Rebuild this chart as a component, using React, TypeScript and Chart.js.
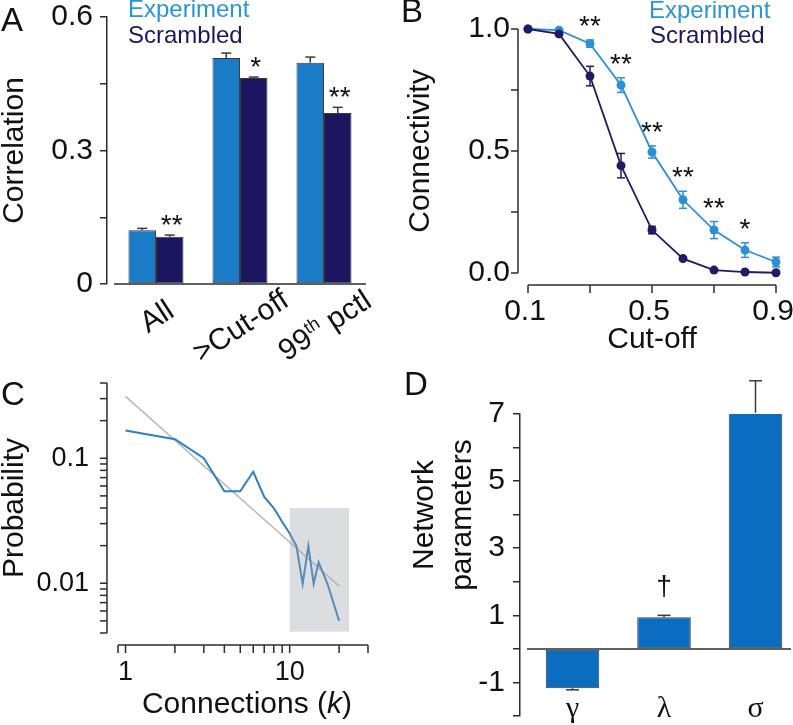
import React, { useEffect, useRef } from 'react';
import { Chart, registerables } from 'chart.js';

Chart.register(...registerables);

const SANS = '"Liberation Sans", Arial, Helvetica, sans-serif';
const SERIF = '"Liberation Serif", "Times New Roman", Times, serif';
const INK = '#111111';
const AXIS = '#2b2b2b';
const EDGE = '#3a3a3a';
const EXP_TEXT = '#2b93d9';
const EXP_BAR = '#1a7bc6';
const SCR = '#1c1560';
const EXP_LINE = '#2a8fd6';
const SCR_LINE = '#211a66';
const C_LINE = '#2b7fc4';
const C_FIT = '#b8b8b8';
const C_TAIL = 'rgba(160,162,170,0.37)';
const D_BAR = '#0a6dbf';

// ---------- Panel A : correlation ----------
const aCategories = ['All', '>Cut-off', '99th pctl'];
const aExperiment = [0.121, 0.508, 0.497];
const aExperimentErr = [0.004, 0.011, 0.013];
const aScrambled = [0.106, 0.463, 0.384];
const aScrambledErr = [0.004, 0.002, 0.013];
const aSignificance = ['**', '*', '**'];
const aYTicks = [0, 0.15, 0.3, 0.45, 0.6];
const aYTickLabels = ['0', '', '0.3', '', '0.6'];

// ---------- Panel B : connectivity vs cut-off ----------
const bCutoffs = [0.1, 0.2, 0.3, 0.4, 0.5, 0.6, 0.7, 0.8, 0.9];
const bExperiment = [1.0, 0.995, 0.94, 0.77, 0.496, 0.3, 0.176, 0.094, 0.045];
const bExperimentErr = [0, 0.006, 0.015, 0.03, 0.025, 0.035, 0.035, 0.03, 0.02];
const bScrambled = [1.0, 0.98, 0.807, 0.44, 0.176, 0.059, 0.012, 0.004, 0.001];
const bScrambledErr = [0, 0.006, 0.04, 0.05, 0.015, 0.006, 0.004, 0.003, 0.003];
const bSignificance = ['', '', '**', '**', '**', '**', '**', '*', ''];
const bXTicks = [0.1, 0.3, 0.5, 0.7, 0.9];
const bXTickLabels = ['0.1', '', '0.5', '', '0.9'];
const bYTicks = [0, 0.25, 0.5, 0.75, 1];
const bYTickLabels = ['0.0', '', '0.5', '', '1.0'];

// ---------- Panel C : degree distribution ----------
const cConnections = [1, 2, 3, 4, 5, 6, 7, 8, 9, 10, 11, 12, 13, 14, 15, 17, 20];
const cProbability = [0.167, 0.142, 0.1, 0.0545, 0.0545, 0.078, 0.049, 0.04, 0.031, 0.025, 0.0198, 0.0099, 0.0198, 0.0099, 0.0147, 0.0099, 0.005];
const cFitConnections = [1, 20];
const cFitProbability = [0.313, 0.0095];
const cTailConnections = [10, 23];
const cTailProbability = [0.0041, 0.04];
const cXTicks = [0.9, 1, 2, 3, 4, 5, 6, 7, 8, 9, 10, 20, 30];
const cXTickLabels = ['', '1', '', '', '', '', '', '', '', '', '10', '', ''];
const cYTicks = [0.004, 0.005, 0.006, 0.007, 0.008, 0.009, 0.01, 0.02, 0.03, 0.04, 0.05, 0.06, 0.07, 0.08, 0.09, 0.1, 0.2, 0.3, 0.4];
const cYTickLabels = ['', '', '', '', '', '', '0.01', '', '', '', '', '', '', '', '', '0.1', '', '', ''];

// ---------- Panel D : network parameters ----------
const dParameters = ['γ', 'λ', 'σ'];
const dValues = [-1.17, 0.94, 7.04];
const dErr = [0.05, 0.06, 0.95];
const dMarks = ['', '†', ''];
const dYTicks = [-2, -1, 0, 1, 2, 3, 4, 5, 6, 7];
const dYTickLabels = ['', '-1', '', '1', '', '3', '', '5', '', '7'];

type Ctx = CanvasRenderingContext2D;

const fixSize = (n: number) => (s: any) => {
  if (s.isHorizontal()) s.height = n;
  else s.width = n;
  s.paddingLeft = 0;
  s.paddingRight = 0;
  s.paddingTop = 0;
  s.paddingBottom = 0;
};
const useTicks = (vals: number[]) => (s: any) => {
  s.ticks = vals.map((v) => ({ value: v }));
};
const labelsFrom = (labels: string[]) => (_v: any, i: number) => labels[i] ?? '';

function line(ctx: Ctx, x1: number, y1: number, x2: number, y2: number, color = AXIS, width = 1.5) {
  ctx.beginPath();
  ctx.moveTo(x1, y1);
  ctx.lineTo(x2, y2);
  ctx.strokeStyle = color;
  ctx.lineWidth = width;
  ctx.lineCap = 'butt';
  ctx.stroke();
}

function text(ctx: Ctx, str: string, x: number, y: number, size: number, color = INK, align: CanvasTextAlign = 'left', family = SANS, style = '') {
  ctx.font = `${style} ${size}px ${family}`.trim();
  ctx.fillStyle = color;
  ctx.textAlign = align;
  ctx.textBaseline = 'alphabetic';
  ctx.fillText(str, x, y);
}

function errorBar(ctx: Ctx, x: number, yFrom: number, yTo: number, cap: number, color: string, width: number, bothEnds: boolean) {
  line(ctx, x, yFrom, x, yTo, color, width);
  line(ctx, x - cap / 2, yTo, x + cap / 2, yTo, color, width);
  if (bothEnds) line(ctx, x - cap / 2, yFrom, x + cap / 2, yFrom, color, width);
}

// text split so that an ordinal suffix (99th) is drawn as superscript
function richParts(label: string) {
  const m = label.match(/^(\d+)(st|nd|rd|th)(.*)$/);
  return m
    ? [{ t: m[1], sup: false }, { t: m[2], sup: true }, { t: m[3], sup: false }]
    : [{ t: label, sup: false }];
}
function richWidths(ctx: Ctx, label: string, size: number) {
  const supSize = Math.round(size * 0.6);
  return richParts(label).map((p) => {
    ctx.font = `${p.sup ? supSize : size}px ${SANS}`;
    return ctx.measureText(p.t).width;
  });
}
function richText(ctx: Ctx, label: string, size: number) {
  const parts = richParts(label);
  const supSize = Math.round(size * 0.6);
  const widths = richWidths(ctx, label, size);
  let x = -widths.reduce((a, b) => a + b, 0) / 2;
  const baseY = size * 0.36;
  ctx.fillStyle = INK;
  ctx.textAlign = 'left';
  ctx.textBaseline = 'alphabetic';
  parts.forEach((p, i) => {
    ctx.font = `${p.sup ? supSize : size}px ${SANS}`;
    ctx.fillText(p.t, x, p.sup ? baseY - size * 0.36 : baseY);
    x += widths[i];
  });
}

const base = {
  responsive: false,
  maintainAspectRatio: false,
  animation: false,
  devicePixelRatio: 1,
  events: [],
  plugins: { legend: { display: false }, tooltip: { enabled: false } },
};

// ================= Panel A =================
const plugA = {
  id: 'panelA',
  afterDatasetsDraw(chart: any) {
    const ctx: Ctx = chart.ctx;
    const xs = chart.scales.x;
    const ys = chart.scales.y;
    ctx.save();
    const series: [number[], number[]][] = [
      [aExperiment, aExperimentErr],
      [aScrambled, aScrambledErr],
    ];
    series.forEach(([vals, errs], d) => {
      chart.getDatasetMeta(d).data.forEach((bar: any, i: number) => {
        errorBar(ctx, bar.x, ys.getPixelForValue(vals[i]), ys.getPixelForValue(vals[i] + errs[i]), 10, EDGE, 1.5, false);
      });
    });
    const y0 = ys.getPixelForValue(0);
    line(ctx, xs.getPixelForValue(-0.5), y0, xs.getPixelForValue(aCategories.length - 0.5), y0, AXIS, 1.5);
    const scr = chart.getDatasetMeta(1).data;
    aSignificance.forEach((mark, i) => {
      const top = ys.getPixelForValue(aScrambled[i] + aScrambledErr[i]);
      text(ctx, mark, scr[i].x + 2, top - 1, 28, INK, 'center');
    });
    aCategories.forEach((label, i) => {
      const w = richWidths(ctx, label, 30).reduce((a, b) => a + b, 0);
      ctx.save();
      ctx.translate(xs.getPixelForValue(i), y0 + 27 + 0.13 * w);
      ctx.rotate((-33 * Math.PI) / 180);
      richText(ctx, label, 30);
      ctx.restore();
    });
    text(ctx, 'Experiment', 128, 17, 24, EXP_TEXT);
    text(ctx, 'Scrambled', 128, 43, 24, SCR);
    text(ctx, 'A', 1, 31, 33, INK);
    ctx.restore();
  },
};

function configA(): any {
  const pos = aCategories.map((_, i) => i);
  const barStyle = { borderColor: EDGE, borderWidth: 1, borderSkipped: false, categoryPercentage: 0.655, barPercentage: 1 };
  return {
    type: 'bar',
    data: {
      datasets: [
        { label: 'Experiment', data: pos.map((x, i) => ({ x, y: aExperiment[i] })), backgroundColor: EXP_BAR, ...barStyle },
        { label: 'Scrambled', data: pos.map((x, i) => ({ x, y: aScrambled[i] })), backgroundColor: SCR, ...barStyle },
      ],
    },
    options: {
      ...base,
      layout: { padding: { top: 17, right: 34, bottom: 0, left: 0 } },
      scales: {
        x: {
          type: 'linear', offset: false, min: -0.583, max: pos.length - 0.5,
          afterBuildTicks: useTicks(pos), afterFit: fixSize(76),
          grid: { display: false, offset: false }, border: { display: false },
          ticks: { display: false, autoSkip: false },
        },
        y: {
          type: 'linear', min: 0, max: 0.6,
          afterBuildTicks: useTicks(aYTicks), afterFit: fixSize(107),
          grid: { drawOnChartArea: false, tickLength: 7, color: AXIS, lineWidth: 1.5 },
          border: { color: AXIS, width: 1.5 },
          ticks: { callback: labelsFrom(aYTickLabels), autoSkip: false, padding: 7, color: INK, font: { family: SANS, size: 30 } },
          title: { display: true, text: 'Correlation', color: INK, padding: 0, font: { family: SANS, size: 30, lineHeight: 1 } },
        },
      },
    },
    plugins: [plugA],
  };
}

// ================= Panel B =================
const plugB = {
  id: 'panelB',
  beforeDatasetsDraw(chart: any) {
    const ctx: Ctx = chart.ctx;
    const xs = chart.scales.x;
    const ys = chart.scales.y;
    ctx.save();
    const series: [number[], number[], string][] = [
      [bExperiment, bExperimentErr, EXP_LINE],
      [bScrambled, bScrambledErr, SCR_LINE],
    ];
    series.forEach(([vals, errs, color]) => {
      bCutoffs.forEach((c, i) => {
        if (!errs[i]) return;
        const x = xs.getPixelForValue(c);
        errorBar(ctx, x, ys.getPixelForValue(vals[i] - errs[i]), ys.getPixelForValue(vals[i] + errs[i]), 8, color, 1.5, true);
      });
    });
    ctx.restore();
  },
  afterDatasetsDraw(chart: any) {
    const ctx: Ctx = chart.ctx;
    const xs = chart.scales.x;
    const ys = chart.scales.y;
    const area = chart.chartArea;
    ctx.save();
    const axX = area.left - 10;
    line(ctx, axX, ys.getPixelForValue(bYTicks[0]), axX, ys.getPixelForValue(bYTicks[bYTicks.length - 1]));
    bYTicks.forEach((v) => line(ctx, axX - 7, ys.getPixelForValue(v), axX, ys.getPixelForValue(v)));
    const axY = area.bottom + 12;
    line(ctx, xs.getPixelForValue(bXTicks[0]), axY, xs.getPixelForValue(bXTicks[bXTicks.length - 1]), axY);
    bXTicks.forEach((v) => line(ctx, xs.getPixelForValue(v), axY, xs.getPixelForValue(v), axY + 8));
    bSignificance.forEach((mark, i) => {
      if (!mark) return;
      const top = ys.getPixelForValue(bExperiment[i] + bExperimentErr[i]);
      text(ctx, mark, xs.getPixelForValue(bCutoffs[i]), top - 5, 28, INK, 'center');
    });
    text(ctx, 'Experiment', 249, 18, 24, EXP_TEXT);
    text(ctx, 'Scrambled', 250, 43, 24, SCR);
    text(ctx, 'B', 1, 22, 33, INK);
    ctx.restore();
  },
};

function configB(): any {
  const pointStyle = { pointRadius: 4.5, pointBorderWidth: 0, borderWidth: 1.8, clip: false };
  return {
    type: 'line',
    data: {
      datasets: [
        { label: 'Experiment', data: bCutoffs.map((x, i) => ({ x, y: bExperiment[i] })), borderColor: EXP_LINE, backgroundColor: EXP_LINE, pointBackgroundColor: EXP_LINE, order: 2, ...pointStyle },
        { label: 'Scrambled', data: bCutoffs.map((x, i) => ({ x, y: bScrambled[i] })), borderColor: SCR_LINE, backgroundColor: SCR_LINE, pointBackgroundColor: SCR_LINE, order: 1, ...pointStyle },
      ],
    },
    options: {
      ...base,
      layout: { padding: { top: 29, right: 17, bottom: 0, left: 0 } },
      scales: {
        x: {
          type: 'linear', min: 0.1, max: 0.9,
          afterBuildTicks: useTicks(bXTicks), afterFit: fixSize(87),
          grid: { display: false, drawTicks: false }, border: { display: false },
          ticks: { callback: labelsFrom(bXTickLabels), autoSkip: false, maxRotation: 0, padding: 21, labelOffset: -3, color: INK, font: { family: SANS, size: 30 } },
          title: { display: true, text: 'Cut-off', color: INK, padding: { top: 0, bottom: 5 }, font: { family: SANS, size: 30, lineHeight: 1 } },
        },
        y: {
          type: 'linear', min: 0, max: 1,
          afterBuildTicks: useTicks(bYTicks), afterFit: fixSize(128),
          grid: { display: false, drawTicks: false }, border: { display: false },
          ticks: { callback: labelsFrom(bYTickLabels), autoSkip: false, padding: 18, color: INK, font: { family: SANS, size: 30 } },
          title: { display: true, text: 'Connectivity', color: INK, padding: { top: 6, bottom: 0 }, font: { family: SANS, size: 30, lineHeight: 1 } },
        },
      },
    },
    plugins: [plugB],
  };
}

// ================= Panel C =================
const plugC = {
  id: 'panelC',
  afterDatasetsDraw(chart: any) {
    const ctx: Ctx = chart.ctx;
    const xs = chart.scales.x;
    const ys = chart.scales.y;
    const area = chart.chartArea;
    ctx.save();
    const x1 = xs.getPixelForValue(cTailConnections[0]);
    const x2 = xs.getPixelForValue(cTailConnections[1]);
    const y1 = ys.getPixelForValue(cTailProbability[1]);
    const y2 = ys.getPixelForValue(cTailProbability[0]);
    ctx.fillStyle = C_TAIL;
    ctx.fillRect(x1, y1, x2 - x1, y2 - y1);
    const axX = area.left - 11;
    line(ctx, axX, ys.getPixelForValue(cYTicks[0]), axX, ys.getPixelForValue(cYTicks[cYTicks.length - 1]));
    cYTicks.forEach((v) => line(ctx, axX - 7, ys.getPixelForValue(v), axX, ys.getPixelForValue(v)));
    const axY = area.bottom + 12;
    line(ctx, xs.getPixelForValue(cXTicks[0]), axY, xs.getPixelForValue(cXTicks[cXTicks.length - 1]), axY);
    cXTicks.forEach((v) => line(ctx, xs.getPixelForValue(v), axY, xs.getPixelForValue(v), axY + 8));
    // x-axis title with italic k
    const parts = [
      { t: 'Connections (', style: '' },
      { t: 'k', style: 'italic' },
      { t: ')', style: '' },
    ];
    const widths = parts.map((p) => {
      ctx.font = `${p.style} 30px ${SANS}`.trim();
      return ctx.measureText(p.t).width;
    });
    let x = (area.left + area.right) / 2 + 4 - widths.reduce((a, b) => a + b, 0) / 2;
    parts.forEach((p, i) => {
      text(ctx, p.t, x, 353, 30, INK, 'left', SANS, p.style);
      x += widths[i];
    });
    text(ctx, 'C', 1, 45, 33, INK);
    ctx.restore();
  },
};

function configC(): any {
  return {
    type: 'line',
    data: {
      datasets: [
        { label: 'Power-law fit', data: cFitConnections.map((x, i) => ({ x, y: cFitProbability[i] })), borderColor: C_FIT, borderWidth: 1.5, pointRadius: 0, clip: false, order: 2 },
        { label: 'Degree distribution', data: cConnections.map((x, i) => ({ x, y: cProbability[i] })), borderColor: C_LINE, borderWidth: 2, pointRadius: 0, clip: false, order: 1 },
      ],
    },
    options: {
      ...base,
      layout: { padding: { top: 23, right: 32, bottom: 0, left: 0 } },
      scales: {
        x: {
          type: 'logarithmic', min: 0.9, max: 30,
          afterBuildTicks: useTicks(cXTicks), afterFit: fixSize(92),
          grid: { display: false, drawTicks: false }, border: { display: false },
          ticks: { callback: labelsFrom(cXTickLabels), autoSkip: false, maxRotation: 0, padding: 23, color: INK, font: { family: SANS, size: 27 } },
        },
        y: {
          type: 'logarithmic', min: 0.004, max: 0.4,
          afterBuildTicks: useTicks(cYTicks), afterFit: fixSize(118),
          grid: { display: false, drawTicks: false }, border: { display: false },
          ticks: { callback: labelsFrom(cYTickLabels), autoSkip: false, padding: 29, color: INK, font: { family: SANS, size: 27 } },
          title: { display: true, text: 'Probability', color: INK, padding: 0, font: { family: SANS, size: 30, lineHeight: 1 } },
        },
      },
    },
    plugins: [plugC],
  };
}

// ================= Panel D =================
const plugD = {
  id: 'panelD',
  afterDatasetsDraw(chart: any) {
    const ctx: Ctx = chart.ctx;
    const ys = chart.scales.y;
    const area = chart.chartArea;
    ctx.save();
    const bars = chart.getDatasetMeta(0).data;
    dValues.forEach((v, i) => {
      const dir = v >= 0 ? 1 : -1;
      errorBar(ctx, bars[i].x, ys.getPixelForValue(v), ys.getPixelForValue(v + dir * dErr[i]), 13, EDGE, 1.5, false);
      if (dMarks[i]) text(ctx, dMarks[i], bars[i].x, ys.getPixelForValue(v + dir * dErr[i]) - 20, 28, INK, 'center');
      // category label (Greek symbol) just above the bottom of the axis
      text(ctx, dParameters[i], bars[i].x, area.bottom + 1, 30, INK, 'center', SERIF);
    });
    const y0 = ys.getPixelForValue(0);
    line(ctx, area.left + 7, y0, area.right, y0, AXIS, 1.5);
    ['Network', 'parameters'].forEach((t, i) => {
      ctx.save();
      ctx.translate(i === 0 ? 33 : 71, 155);
      ctx.rotate(-Math.PI / 2);
      text(ctx, t, 0, 0, 30, INK, 'center');
      ctx.restore();
    });
    text(ctx, 'D', 4, 35, 33, INK);
    ctx.restore();
  },
};

function configD(): any {
  const pos = dParameters.map((_, i) => i);
  return {
    type: 'bar',
    data: {
      labels: dParameters,
      datasets: [
        { label: 'Network parameters', data: pos.map((x, i) => ({ x, y: dValues[i] })), backgroundColor: D_BAR, borderColor: EDGE, borderWidth: 1, borderSkipped: false, categoryPercentage: 1, barPercentage: 0.585 },
      ],
    },
    options: {
      ...base,
      layout: { padding: { top: 54, right: 2, bottom: 0, left: 0 } },
      scales: {
        x: {
          type: 'linear', offset: false, min: -0.574, max: 2.388,
          afterBuildTicks: useTicks(pos), afterFit: fixSize(9),
          grid: { display: false, drawTicks: false, offset: false }, border: { display: false },
          ticks: { display: false, autoSkip: false },
        },
        y: {
          type: 'linear', min: -2, max: 7,
          afterBuildTicks: useTicks(dYTicks), afterFit: fixSize(120),
          grid: { drawOnChartArea: false, tickLength: 7, color: AXIS, lineWidth: 1.5 },
          border: { color: AXIS, width: 1.5 },
          ticks: { callback: labelsFrom(dYTickLabels), autoSkip: false, padding: 8, color: INK, font: { family: SANS, size: 30 } },
        },
      },
    },
    plugins: [plugD],
  };
}

function Panel({ left, top, width, height, build }: { left: number; top: number; width: number; height: number; build: () => any }) {
  const ref = useRef<HTMLCanvasElement>(null);
  useEffect(() => {
    const chart = new Chart(ref.current as HTMLCanvasElement, build());
    return () => chart.destroy();
  }, []);
  return (
    <canvas
      ref={ref}
      width={width}
      height={height}
      style={{ position: 'absolute', left, top, width, height, display: 'block' }}
    />
  );
}

export default function App() {
  return (
    <div style={{ position: 'absolute', left: 0, top: 0, width: 793, height: 725, background: '#ffffff', overflow: 'hidden' }}>
      <Panel left={0} top={0} width={400} height={360} build={configA} />
      <Panel left={400} top={0} width={393} height={360} build={configB} />
      <Panel left={0} top={360} width={400} height={365} build={configC} />
      <Panel left={400} top={360} width={393} height={365} build={configD} />
    </div>
  );
}
